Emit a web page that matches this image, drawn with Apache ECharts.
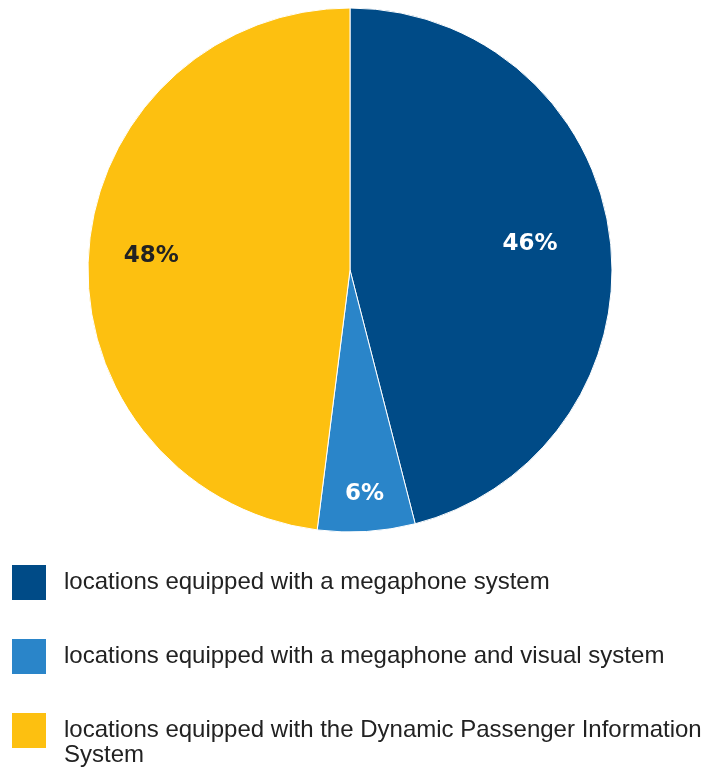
<!DOCTYPE html>
<html><head><meta charset="utf-8">
<script src="https://cdn.jsdelivr.net/npm/echarts@6/dist/echarts.min.js"></script>
<style>html,body{margin:0;padding:0;background:#fff}#c{width:704px;height:769px}</style>
</head><body><div id="c"></div>
<script>
const categories = [
  'locations equipped with a megaphone system',
  'locations equipped with a megaphone and visual system',
  'locations equipped with the Dynamic Passenger Information'
];
const legendWrap = 'System';
const values = [46, 6, 48];
const colors = ['#004B87', '#2A85C9', '#FDC010'];
const labelColors = ['#ffffff', '#ffffff', '#222222'];
const labelShift = [[47, -9], [6, 90], [-65, -6]];

const chart = echarts.init(document.getElementById('c'), null, {renderer: 'canvas'});
chart.setOption({
  animation: false,
  legend: {
    orient: 'vertical',
    left: 10,
    top: 563,
    height: 206,
    padding: 0,
    itemWidth: 36,
    itemHeight: 37,
    itemGap: 35,
    icon: 'rect',
    textStyle: {fontFamily: 'Liberation Sans', fontSize: 24, color: '#222', padding: [0, 0, 0, 12]},
    data: categories
  },
  graphic: [{
    type: 'text',
    left: 64,
    top: 743,
    style: {text: legendWrap, font: '24px "Liberation Sans"', fill: '#222'}
  }],
  series: [{
    type: 'pie',
    center: [350, 270],
    radius: 262,
    startAngle: 90,
    clockwise: true,
    itemStyle: {borderColor: '#fff', borderWidth: 1},
    label: {
      position: 'inside',
      formatter: '{c}%',
      fontFamily: 'DejaVu Sans',
      fontWeight: 'bold',
      fontSize: 23
    },
    labelLayout: function (p) { return {dx: labelShift[p.dataIndex][0], dy: labelShift[p.dataIndex][1]}; },
    data: categories.map((n, i) => ({name: n, value: values[i], itemStyle: {color: colors[i]}, label: {color: labelColors[i]}}))
  }]
});
</script></body></html>
